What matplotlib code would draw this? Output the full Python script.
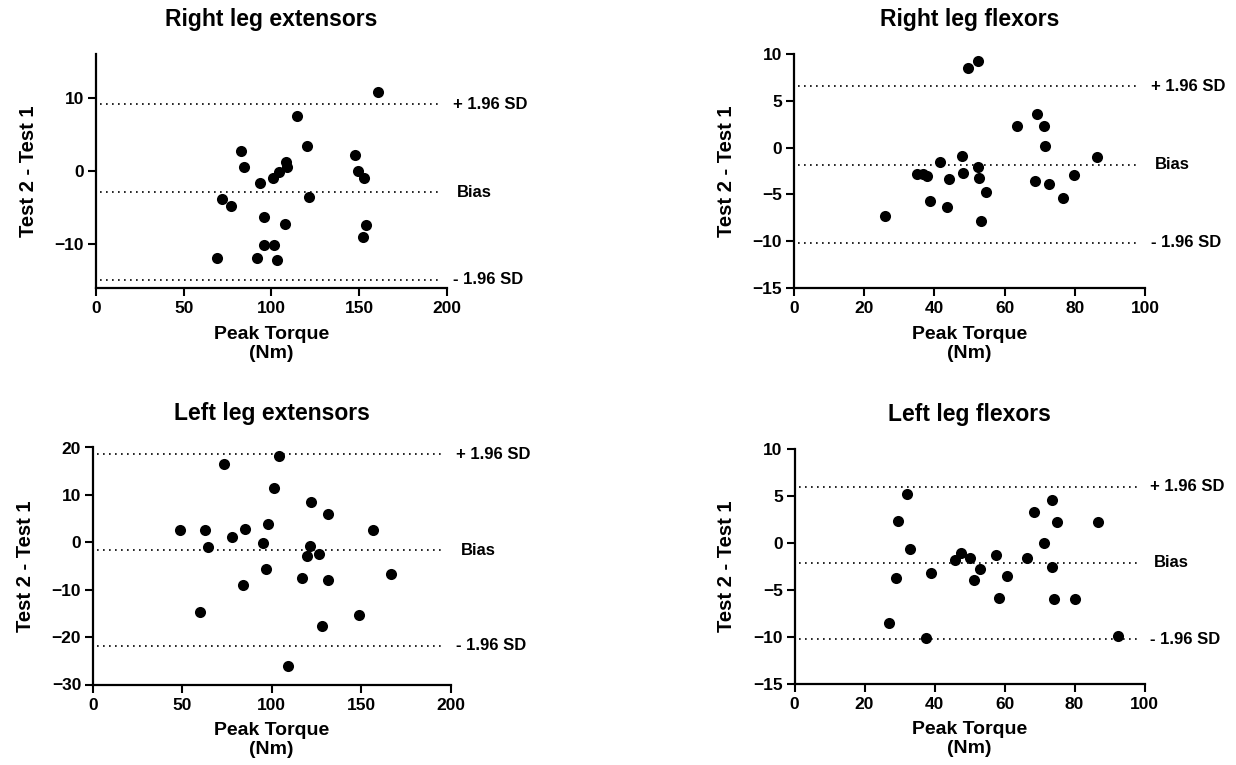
import matplotlib
matplotlib.use("Agg")
import matplotlib.pyplot as plt

plt.rcParams['font.family'] = ['Liberation Sans', 'DejaVu Sans']
plt.rcParams['font.weight'] = 'bold'

# ---- Data ----
titles = ["Right leg extensors", "Right leg flexors", "Left leg extensors", "Left leg flexors"]

rle_x = [160.9, 114.8, 120.3, 82.5, 84.3, 108.5, 108.7, 104.4, 101.1, 93.2, 147.4, 149.5, 152.9,
         71.9, 77.2, 121.4, 95.6, 107.8, 153.7, 152.2, 95.8, 101.3, 68.9, 91.8, 103.2]
rle_y = [10.8, 7.5, 3.4, 2.7, 0.55, 1.2, 0.55, -0.2, -1.0, -1.6, 2.2, 0.0, -0.9,
         -3.8, -4.8, -3.5, -6.3, -7.2, -7.4, -9.0, -10.1, -10.1, -11.95, -11.95, -12.2]
rle_stats = [-2.9, 9.1, -14.9]  # bias, +1.96SD, -1.96SD

rlf_x = [49.5, 52.3, 69.2, 63.5, 71.3, 71.5, 86.2, 48.0, 41.6, 52.4, 35.1, 36.7, 38.0,
         48.1, 44.1, 52.6, 79.9, 68.6, 72.7, 54.8, 76.5, 38.7, 43.5, 26.0, 53.2]
rlf_y = [8.5, 9.2, 3.6, 2.3, 2.3, 0.2, -1.0, -0.9, -1.5, -2.1, -2.8, -2.8, -3.0,
         -2.75, -3.4, -3.2, -2.9, -3.6, -3.9, -4.75, -5.4, -5.75, -6.3, -7.3, -7.8]
rlf_stats = [-1.85, 6.55, -10.15]

lle_x = [104.0, 73.4, 101.0, 122.1, 131.6, 48.6, 62.6, 156.8, 84.8, 97.9, 77.9, 95.1, 64.3,
         121.3, 119.5, 126.6, 96.6, 116.7, 131.6, 166.8, 83.9, 59.8, 148.9, 128.1, 109.2]
lle_y = [18.3, 16.6, 11.4, 8.4, 6.0, 2.5, 2.5, 2.5, 2.8, 3.9, 1.1, -0.1, -1.05,
         -0.8, -2.8, -2.4, -5.7, -7.6, -7.9, -6.75, -9.0, -14.8, -15.3, -17.7, -26.2]
lle_stats = [-1.7, 18.55, -21.85]

llf_x = [32.1, 73.6, 68.5, 29.7, 75.0, 86.7, 33.0, 71.2, 47.5, 45.9, 50.2, 57.6, 66.5,
         73.5, 53.1, 29.1, 39.1, 51.2, 60.6, 58.4, 74.1, 80.2, 27.1, 37.6, 92.5]
llf_y = [5.2, 4.6, 3.3, 2.3, 2.2, 2.2, -0.7, 0.0, -1.1, -1.8, -1.6, -1.3, -1.6,
         -2.6, -2.8, -3.7, -3.2, -4.0, -3.5, -5.9, -6.0, -6.0, -8.5, -10.2, -9.9]
llf_stats = [-2.15, 6.0, -10.3]

xticks_ext = [0, 50, 100, 150, 200]
xticks_flex = [0, 20, 40, 60, 80, 100]
yticks_rle = [-10, 0, 10]
yticks_flex = [-15, -10, -5, 0, 5, 10]
yticks_lle = [-30, -20, -10, 0, 10, 20]
line_labels = ["Bias", "+ 1.96 SD", "- 1.96 SD"]
xlabel = "Peak Torque\n(Nm)"
ylabel = "Test 2 - Test 1"

panels = [
    dict(x=rle_x, y=rle_y, stats=rle_stats, xlim=(0, 200), ylim=(-16, 16),
         xt=xticks_ext, yt=yticks_rle, pos=[96/1236, 1-288/765, 351/1236, 234/765]),
    dict(x=rlf_x, y=rlf_y, stats=rlf_stats, xlim=(0, 100), ylim=(-15, 10),
         xt=xticks_flex, yt=yticks_flex, pos=[794/1236, 1-288/765, 351/1236, 234/765]),
    dict(x=lle_x, y=lle_y, stats=lle_stats, xlim=(0, 200), ylim=(-30, 20),
         xt=xticks_ext, yt=yticks_lle, pos=[93/1236, 1-684.5/765, 357.5/1236, 237/765]),
    dict(x=llf_x, y=llf_y, stats=llf_stats, xlim=(0, 100), ylim=(-15, 10),
         xt=xticks_flex, yt=yticks_flex, pos=[794.5/1236, 1-683.5/765, 350/1236, 234.5/765]),
]

fig = plt.figure(figsize=(12.36, 7.65), dpi=100)

for title, p in zip(titles, panels):
    ax = fig.add_axes(p['pos'])
    ax.scatter(p['x'], p['y'], s=64, color='black', zorder=3, clip_on=False, linewidths=0)
    for val, lab in zip(p['stats'], line_labels):
        ax.axhline(val, xmin=0.012, xmax=0.985, color='black', lw=1.2,
                   linestyle=(0, (1, 2.6)), zorder=2)
        xoff = 1.028 if lab == "Bias" else 1.016
        ax.text(xoff, val, lab, transform=ax.get_yaxis_transform(), ha='left', va='center',
                fontsize=12, fontweight='bold', clip_on=False)
    ax.set_xlim(p['xlim'])
    ax.set_ylim(p['ylim'])
    ax.set_xticks(p['xt'])
    ax.set_yticks(p['yt'])
    for s in ['top', 'right']:
        ax.spines[s].set_visible(False)
    for s in ['left', 'bottom']:
        ax.spines[s].set_linewidth(1.6)
    ax.tick_params(direction='out', length=5.5, width=1.5, labelsize=12.5, pad=3)
    ax.tick_params(axis='x', pad=4)
    for lbl in ax.get_xticklabels() + ax.get_yticklabels():
        lbl.set_fontweight('bold')
    ax.set_title(title, fontsize=16.5, fontweight='bold', pad=20)
    ax.set_xlabel(xlabel, fontsize=14, fontweight='bold', linespacing=1.15, labelpad=7)
    ax.set_ylabel(ylabel, fontsize=14.5, fontweight='bold', labelpad=12)

fig.savefig("out.png", dpi=100)
